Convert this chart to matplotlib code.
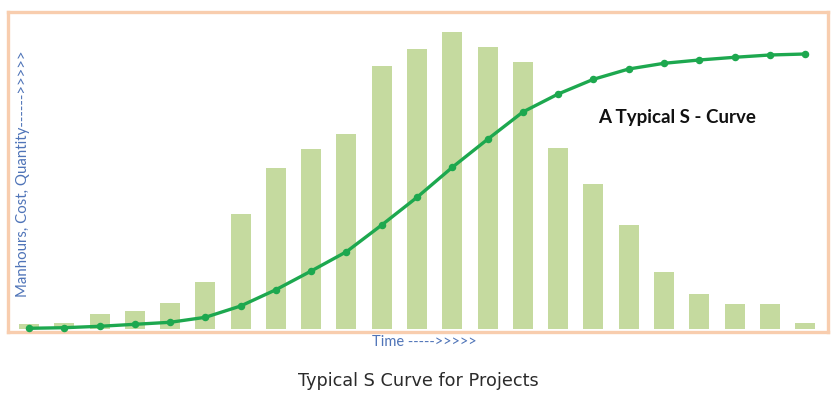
import numpy as np
import matplotlib.pyplot as plt

# ── Data (arbitrary units) ────────────────────────────────────────────────────
periods = np.arange(1, 24)
period_effort = [5.5, 6.5, 15, 18, 26, 47, 115, 161, 180, 195, 263, 280, 297,
                 282, 267, 181, 145, 104, 57, 35, 25, 25, 6]
cumulative = [0.7, 1.3, 2.7, 4.7, 6.7, 11.7, 23, 39.3, 58, 77.3, 104, 131.7,
              161.7, 189.7, 217, 235, 249.7, 260, 265.7, 269, 271.7, 274, 275]

BAR_COL = "#C5DA9F"
LINE_COL = "#1DA84F"
FRAME_COL = "#F8CDAE"
LABEL_COL = "#4F74B8"

W, H = 837, 396
fig = plt.figure(figsize=(W / 100, H / 100), dpi=100)

# axes box = the peach frame
left, right, top, bottom = 8, 828, 12, 332
ax = fig.add_axes([left / W, 1 - bottom / H, (right - left) / W, (bottom - top) / H])

ax.bar(periods, period_effort, width=0.567, color=BAR_COL, zorder=2)
ax.plot(periods, cumulative, color=LINE_COL, linewidth=2.4, marker="o",
        markersize=4.4, zorder=3)

ax.set_xlim(1 - 0.595, 23.65)
ax.set_ylim(-3, 317)
ax.set_xticks([])
ax.set_yticks([])
for sp in ax.spines.values():
    sp.set_color(FRAME_COL)
    sp.set_linewidth(2.4)

fig.text(598 / W, 1 - 117 / H, "A Typical S - Curve",
         fontsize=13.5, fontweight="bold", family="Lato", color="#111111",
         ha="left", va="center")

fig.text(23 / W, 1 - 174 / H, "Manhours, Cost, Quantity------>>>>>",
         rotation=90, ha="center", va="center", fontsize=10.8,
         family="Lato", color=LABEL_COL)
fig.text(424 / W, 1 - 342 / H, "Time ----->>>>>", ha="center", va="center",
         fontsize=10.5, family="Lato", color=LABEL_COL)

fig.text(418 / W, 1 - 381 / H, "Typical S Curve for Projects", ha="center",
         va="center", fontsize=12.7, family="DejaVu Sans", color="#2b2b2b")

fig.savefig("out.png", dpi=100)
